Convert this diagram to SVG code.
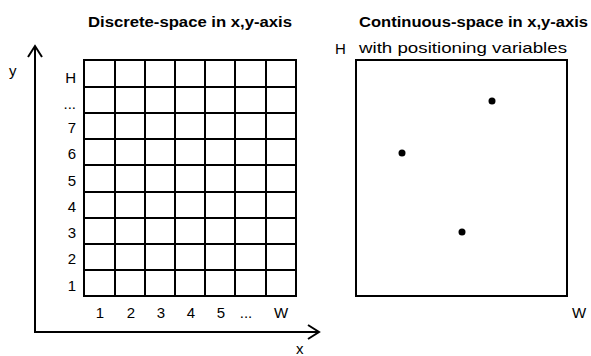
<svg xmlns="http://www.w3.org/2000/svg" width="591" height="356" viewBox="0 0 591 356">
<style>
text{font-family:"Liberation Sans",Arial,sans-serif;fill:#000}
.t{font-weight:bold;font-size:14px}
.l{font-size:15px}
.g{stroke:#000;stroke-width:2;fill:none}
.ax{stroke:#000;stroke-width:2;fill:none}
</style>
<rect width="591" height="356" fill="#fff"/>
<g id="discrete-title"><text class="t" x="88" y="27" textLength="204" lengthAdjust="spacingAndGlyphs">Discrete-space in x,y-axis</text></g>
<g id="continuous-title"><text class="t" x="359" y="27" textLength="229" lengthAdjust="spacingAndGlyphs">Continuous-space in x,y-axis</text>
<text class="l" x="359" y="53" textLength="208" lengthAdjust="spacingAndGlyphs">with positioning variables</text></g>
<g id="axes" class="connectors">
<path class="ax" d="M35,48 V332 H318"/>
<path class="ax" d="M28,57 L35,46 L42,57"/>
<path class="ax" d="M308,325 L319,332 L308,339"/>
<text class="l" x="9" y="76">y</text>
<text class="l" x="296" y="354">x</text>
</g>
<g id="grid">
<rect class="g" x="84" y="60" width="212" height="236"/>
<path class="g" d="M115,60V296M145,60V296M175,60V296M205,60V296M235,60V296M266,60V296M84,87H296M84,113H296M84,139H296M84,165H296M84,192H296M84,218H296M84,244H296M84,270H296"/>
</g>
<g id="row-labels" text-anchor="end">
<text class="l" x="76" y="83">H</text>
<text class="l" x="76" y="109">...</text>
<text class="l" x="76" y="133">7</text>
<text class="l" x="76" y="159">6</text>
<text class="l" x="76" y="186">5</text>
<text class="l" x="76" y="212">4</text>
<text class="l" x="76" y="238">3</text>
<text class="l" x="76" y="264">2</text>
<text class="l" x="76" y="291">1</text>
</g>
<g id="col-labels" text-anchor="middle">
<text class="l" x="100" y="318">1</text>
<text class="l" x="131" y="318">2</text>
<text class="l" x="161" y="318">3</text>
<text class="l" x="191" y="318">4</text>
<text class="l" x="221" y="318">5</text>
<text class="l" x="246" y="318">...</text>
<text class="l" x="281" y="318">W</text>
</g>
<g id="continuous-box">
<rect class="g" x="356" y="60" width="211" height="236"/>
<text class="l" x="335" y="54">H</text>
<text class="l" x="572" y="318">W</text>
<circle cx="492" cy="101" r="3.5"/>
<circle cx="402" cy="153" r="3.5"/>
<circle cx="462" cy="232" r="3.5"/>
</g>
</svg>
